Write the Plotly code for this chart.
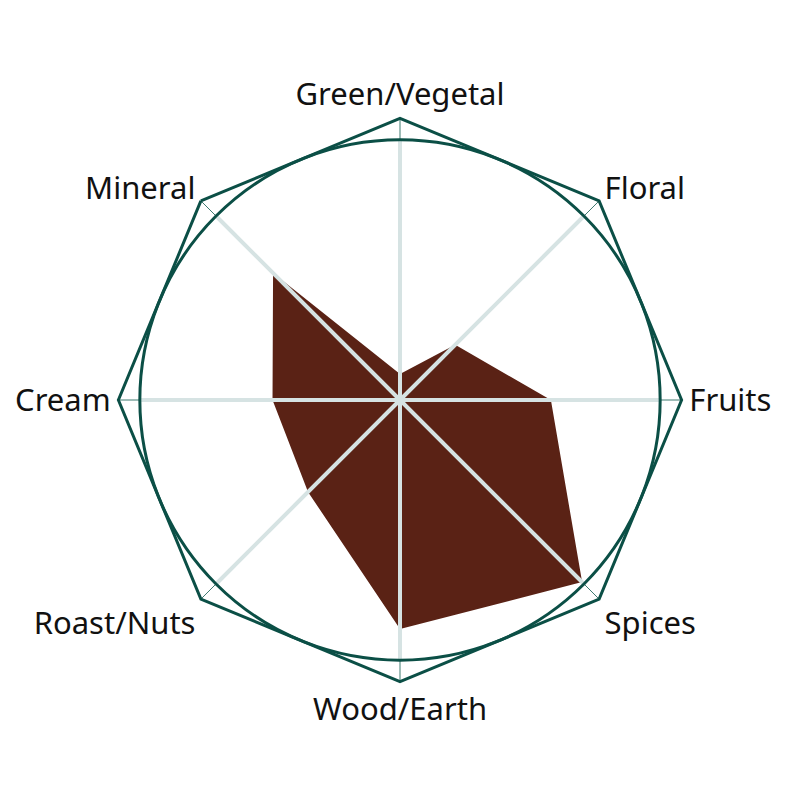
import math
import plotly.graph_objects as go

# flavour wheel, scores 0-100
categories = ["Green/Vegetal", "Floral", "Fruits", "Spices",
              "Wood/Earth", "Roast/Nuts", "Cream", "Mineral"]
scores = [10, 30, 58, 99, 88, 50, 49, 69]

DARK_GREEN = "#0b4f46"
LIGHT_GRID = "#d6e3e3"
BROWN = "#5a2215"

# the page body has an 8px margin, so pull the plot back to the centre
shift = 8 / 800
outer_x = [0.148 - shift, 0.852 - shift]
outer_y = [0.148 + shift, 0.852 + shift]

# circle inscribed in the octagon
k = math.cos(math.pi / 8)
half = (outer_x[1] - outer_x[0]) / 2 * k
inner_x = [0.5 - shift - half, 0.5 - shift + half]
inner_y = [0.5 + shift - half, 0.5 + shift + half]

fig = go.Figure()

# scores live on the octagon subplot, whose edge sits at 100 / cos(22.5deg)
fig.add_trace(go.Scatterpolar(r=scores + scores[:1],
                              theta=categories + categories[:1],
                              mode="lines", fill="toself",
                              fillcolor=BROWN, line=dict(width=0, color=BROWN),
                              showlegend=False, subplot="polar"))

# invisible trace so the circle subplot gets its categories
fig.add_trace(go.Scatterpolar(r=[0] * len(categories), theta=categories,
                              mode="lines", line=dict(width=0),
                              hoverinfo="skip", showlegend=False,
                              subplot="polar2"))

fig.update_layout(
    width=800, height=800,
    margin=dict(l=0, r=0, t=0, b=0),
    paper_bgcolor="white",
    font=dict(family="Noto Sans", size=31, color="#111111"),
    polar=dict(
        domain=dict(x=outer_x, y=outer_y),
        gridshape="linear",
        bgcolor="rgba(0,0,0,0)",
        radialaxis=dict(visible=False, range=[0, 100 / k]),
        angularaxis=dict(rotation=90, direction="clockwise",
                         categoryarray=categories,
                         showline=True, linecolor=DARK_GREEN, linewidth=3,
                         showgrid=True, gridcolor="#3f7a71", gridwidth=1,
                         ticks="", showticklabels=True),
    ),
    polar2=dict(
        domain=dict(x=inner_x, y=inner_y),
        bgcolor="rgba(0,0,0,0)",
        radialaxis=dict(visible=False, range=[0, 100]),
        angularaxis=dict(rotation=90, direction="clockwise",
                         categoryarray=categories,
                         showline=True, linecolor=DARK_GREEN, linewidth=3,
                         showgrid=True, gridcolor=LIGHT_GRID, gridwidth=4,
                         ticks="", showticklabels=False),
    ),
)

fig.write_html("out.html")
